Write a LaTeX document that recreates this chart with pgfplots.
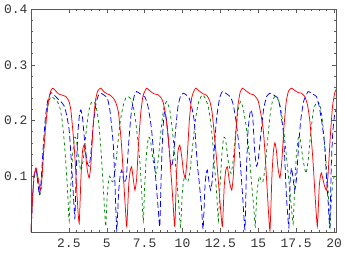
\documentclass[border=0pt]{standalone}
\usepackage{pgfplots}
\pgfplotsset{compat=1.18}
\usepackage{fontspec}
\setmainfont{Liberation Mono}
\definecolor{mgreen}{rgb}{0,0.5,0}
\definecolor{frame}{gray}{0.35}
\begin{document}
\begin{tikzpicture}
\useasboundingbox (-31bp,-22bp) rectangle (314bp,232bp);
\begin{axis}[
  at={(0,0)}, anchor=south west,
  width=305bp, height=223bp, scale only axis,
  xmin=0, xmax=20.13, ymin=0, ymax=0.4,
  xtick={2.5,5,7.5,10,12.5,15,17.5,20},
  xticklabels={2.5,5,7.5,10,12.5,15,17.5,20},
  ytick={0.1,0.2,0.3,0.4},
  yticklabels={0.1,0.2,0.3,0.4},
  minor x tick num=4, minor y tick num=4,
  tick align=inside,
  major tick length=4bp, minor tick length=2bp,
  xtick pos=both, ytick pos=both,
  xticklabel pos=lower, yticklabel pos=left,
  axis line style={frame, line width=0.5pt},
  every tick/.style={frame, line width=0.4pt},
  tick label style={font=\fontsize{13}{13}\selectfont, text=black!80},
  /pgf/number format/assume math mode=true,
  xticklabel style={yshift=-3bp},
  yticklabel style={xshift=0bp},
  clip=true,
  every axis plot/.append style={smooth, tension=0.3, line width=0.75pt},
]
% green
\addplot[mgreen, dash pattern=on 3bp off 3bp] coordinates {
(0,0) (0.1,0.06) (0.2,0.1) (0.33,0.11) (0.45,0.09) (0.6,0.068) (0.7,0.085) (0.85,0.15) (1.0,0.2) (1.15,0.232) (1.32,0.243) (1.5,0.24) (1.7,0.235) (1.86,0.228) (1.97,0.215) (2.08,0.195) (2.2,0.16) (2.3,0.124) (2.42,0.07) (2.52,0.02)
(2.62,0.08) (2.75,0.14) (2.88,0.17) (3.0,0.165) (3.15,0.13) (3.3,0.11) (3.45,0.13) (3.6,0.17) (3.8,0.215) (3.98,0.232) (4.15,0.234) (4.3,0.225) (4.45,0.2) (4.6,0.155) (4.75,0.09) (4.93,0.01)
(5.03,0.065) (5.12,0.09) (5.2,0.1) (5.3,0.093) (5.4,0.09) (5.55,0.11) (5.7,0.15) (5.9,0.2) (6.1,0.228) (6.25,0.24) (6.43,0.243) (6.6,0.238) (6.75,0.225) (6.9,0.2) (7.05,0.165) (7.19,0.124) (7.3,0.075) (7.41,0.02)
(7.5,0.08) (7.62,0.14) (7.75,0.17) (7.88,0.165) (8.05,0.13) (8.25,0.105) (8.4,0.13) (8.55,0.175) (8.75,0.22) (8.95,0.234) (9.15,0.22) (9.3,0.19) (9.45,0.15) (9.6,0.1) (9.75,0.05) (9.87,0.01)
(9.97,0.065) (10.06,0.09) (10.15,0.1) (10.25,0.093) (10.35,0.09) (10.5,0.11) (10.65,0.15) (10.85,0.2) (11.05,0.232) (11.3,0.246) (11.5,0.24) (11.7,0.225) (11.85,0.2) (11.98,0.165) (12.1,0.124) (12.25,0.07) (12.37,0.02)
(12.47,0.08) (12.6,0.14) (12.72,0.17) (12.85,0.165) (13.0,0.13) (13.2,0.105) (13.35,0.13) (13.5,0.175) (13.68,0.22) (13.84,0.234) (14.0,0.222) (14.2,0.19) (14.4,0.14) (14.55,0.09) (14.7,0.045) (14.8,0.01)
(14.9,0.065) (15.0,0.09) (15.08,0.1) (15.18,0.093) (15.3,0.09) (15.45,0.115) (15.6,0.16) (15.8,0.215) (15.95,0.236) (16.1,0.243) (16.3,0.238) (16.45,0.225) (16.6,0.2) (16.75,0.165) (16.9,0.124) (17.1,0.07) (17.3,0.015)
(17.4,0.08) (17.52,0.14) (17.65,0.17) (17.78,0.165) (17.95,0.13) (18.15,0.105) (18.3,0.13) (18.45,0.175) (18.65,0.22) (18.9,0.234) (19.1,0.225) (19.25,0.195) (19.4,0.15) (19.55,0.1) (19.65,0.055) (19.74,0.01)
(19.84,0.065) (19.93,0.09) (20.02,0.1) (20.15,0.093)
};
% blue
\addplot[blue, dash pattern=on 6bp off 3bp] coordinates {
(0,0.0) (0.1,0.06) (0.2,0.1) (0.33,0.113) (0.45,0.09) (0.55,0.066) (0.65,0.085) (0.8,0.15) (0.95,0.205) (1.1,0.235) (1.32,0.25) (1.55,0.245) (1.8,0.238) (1.97,0.234) (2.19,0.226) (2.35,0.21) (2.52,0.183) (2.63,0.14) (2.74,0.093) (2.82,0.055) (2.9,0.025)
(3.0,0.12) (3.1,0.18) (3.2,0.21) (3.29,0.219) (3.4,0.205) (3.55,0.16) (3.7,0.125) (3.84,0.118) (3.95,0.14) (4.1,0.19) (4.3,0.232) (4.45,0.245) (4.6,0.249) (4.8,0.246) (5.04,0.24) (5.2,0.22) (5.32,0.19) (5.44,0.153) (5.55,0.08) (5.66,0.003)
(5.78,0.07) (5.88,0.1) (5.99,0.111) (6.1,0.095) (6.2,0.088) (6.3,0.1) (6.45,0.16) (6.6,0.21) (6.8,0.243) (6.97,0.252) (7.2,0.248) (7.52,0.242) (7.7,0.228) (7.85,0.205) (7.96,0.183) (8.1,0.14) (8.25,0.09) (8.4,0.04) (8.5,0.01)
(8.6,0.11) (8.7,0.18) (8.78,0.21) (8.84,0.216) (8.95,0.2) (9.1,0.155) (9.2,0.125) (9.28,0.117) (9.4,0.135) (9.55,0.185) (9.7,0.225) (9.85,0.242) (10.04,0.249) (10.25,0.246) (10.44,0.24) (10.6,0.225) (10.77,0.2) (10.9,0.15) (11.0,0.115) (11.1,0.09) (11.25,0.045) (11.36,0.005)
(11.48,0.08) (11.56,0.105) (11.64,0.111) (11.75,0.09) (11.86,0.075) (11.97,0.095) (12.1,0.15) (12.25,0.205) (12.45,0.24) (12.63,0.252) (12.9,0.248) (13.18,0.242) (13.35,0.228) (13.5,0.205) (13.62,0.18) (13.73,0.153) (13.85,0.11) (13.98,0.06) (14.12,0.005)
(14.22,0.11) (14.32,0.18) (14.45,0.213) (14.54,0.219) (14.65,0.2) (14.75,0.15) (14.88,0.118) (15.0,0.13) (15.15,0.17) (15.35,0.22) (15.55,0.243) (15.77,0.249) (16.0,0.246) (16.3,0.24) (16.45,0.222) (16.55,0.2) (16.64,0.183) (16.75,0.13) (16.86,0.063) (17.02,0.008)
(17.1,0.09) (17.19,0.115) (17.3,0.095) (17.41,0.075) (17.52,0.095) (17.65,0.15) (17.8,0.2) (18.0,0.235) (18.29,0.252) (18.55,0.248) (18.84,0.243) (19.0,0.228) (19.15,0.205) (19.28,0.18) (19.39,0.153) (19.5,0.1) (19.62,0.05) (19.72,0.008)
(19.82,0.12) (19.92,0.18) (20.05,0.213) (20.15,0.219)
};
% red
\addplot[red] coordinates {
(0,0.0) (0.1,0.06) (0.2,0.1) (0.33,0.115) (0.45,0.1) (0.6,0.075) (0.7,0.09) (0.85,0.15) (1.0,0.2) (1.15,0.235) (1.3,0.253) (1.43,0.258) (1.6,0.254) (1.8,0.248) (2.0,0.246) (2.3,0.243) (2.5,0.235) (2.63,0.219) (2.75,0.185) (2.85,0.153) (2.95,0.11) (3.05,0.06) (3.18,0.015)
(3.3,0.1) (3.4,0.145) (3.5,0.156) (3.6,0.14) (3.72,0.11) (3.84,0.097) (3.95,0.12) (4.1,0.19) (4.25,0.235) (4.4,0.253) (4.6,0.258) (4.8,0.252) (5.0,0.248) (5.2,0.246) (5.44,0.24) (5.6,0.232) (5.77,0.215) (5.9,0.18) (5.99,0.15) (6.1,0.1) (6.2,0.055) (6.32,0.01)
(6.45,0.085) (6.55,0.11) (6.64,0.117) (6.75,0.095) (6.86,0.075) (6.97,0.095) (7.1,0.16) (7.25,0.215) (7.4,0.245) (7.63,0.258) (7.85,0.253) (8.1,0.248) (8.4,0.246) (8.6,0.24) (8.73,0.232) (8.85,0.215) (8.95,0.195) (9.06,0.17) (9.17,0.13) (9.28,0.09) (9.38,0.05) (9.49,0.01)
(9.6,0.1) (9.7,0.145) (9.82,0.156) (9.95,0.135) (10.05,0.11) (10.18,0.097) (10.3,0.13) (10.45,0.2) (10.6,0.24) (10.75,0.253) (10.88,0.258) (11.1,0.253) (11.35,0.248) (11.6,0.245) (11.8,0.235) (11.95,0.215) (12.1,0.175) (12.25,0.13) (12.4,0.08) (12.5,0.045) (12.63,0.01)
(12.75,0.08) (12.85,0.11) (12.96,0.117) (13.1,0.09) (13.25,0.075) (13.35,0.1) (13.5,0.17) (13.65,0.225) (13.8,0.25) (13.95,0.258) (14.2,0.253) (14.45,0.248) (14.7,0.246) (14.9,0.24) (15.0,0.235) (15.15,0.215) (15.33,0.183) (15.45,0.14) (15.6,0.07) (15.77,0.002)
(15.9,0.1) (16.0,0.145) (16.1,0.16) (16.2,0.145) (16.3,0.115) (16.43,0.097) (16.55,0.125) (16.7,0.19) (16.85,0.235) (17.0,0.253) (17.19,0.258) (17.4,0.254) (17.65,0.25) (17.85,0.249) (18.07,0.243) (18.25,0.228) (18.4,0.2) (18.52,0.16) (18.62,0.124) (18.75,0.065) (18.9,0.01)
(19.02,0.08) (19.1,0.1) (19.17,0.106) (19.35,0.085) (19.5,0.075) (19.6,0.1) (19.75,0.17) (19.9,0.225) (20.05,0.25) (20.15,0.256)
};
\end{axis}
\end{tikzpicture}
\end{document}
